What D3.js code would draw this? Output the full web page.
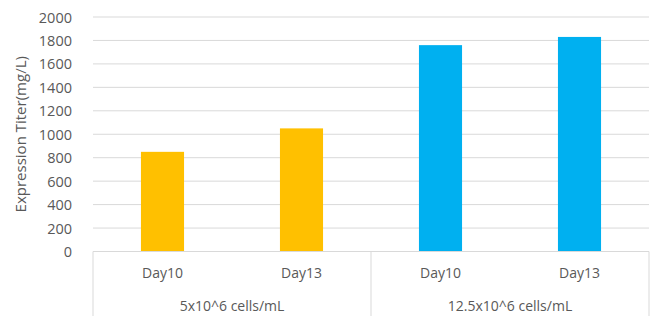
<!DOCTYPE html>
<html><head><meta charset="utf-8">
<script src="https://cdn.jsdelivr.net/npm/d3@7"></script>
<style>body{margin:0;background:#fff;}text{font-family:"Open Sans","Liberation Sans",sans-serif;fill:#595959;}</style>
</head><body><svg id="c" width="656" height="316"></svg>
<script>
const groups = ["5x10^6 cells/mL", "12.5x10^6 cells/mL"];
const days = ["Day10", "Day13"];
const categories = ["5x10^6 cells/mL|Day10", "5x10^6 cells/mL|Day13", "12.5x10^6 cells/mL|Day10", "12.5x10^6 cells/mL|Day13"];
const values = [850, 1050, 1760, 1830];
const colors = ["#FFC000", "#FFC000", "#00B0F0", "#00B0F0"];
const yTicks = [0, 200, 400, 600, 800, 1000, 1200, 1400, 1600, 1800, 2000];
const yTitle = "Expression Titer(mg/L)";

const svg = d3.select("#c");
const L = 93, R = 649, T = 17, B = 251.5;
const x = d3.scaleBand().domain(categories).range([L, R]).paddingInner(0.69).paddingOuter(0.345);
const y = d3.scaleLinear().domain([0, 2000]).range([B, T]);

// gridlines
svg.append("g").selectAll("line").data(yTicks.filter(d => d > 0)).join("line")
  .attr("x1", L).attr("x2", R).attr("y1", d => y(d)).attr("y2", d => y(d))
  .attr("stroke", "#D9D9D9").attr("stroke-width", 1);

// y axis labels
const yAxis = d3.axisLeft(y).tickValues(yTicks).tickSize(0).tickPadding(0).tickFormat(d3.format("d"));
const ga = svg.append("g").attr("transform", `translate(${L - 21},0)`).call(yAxis);
ga.select(".domain").remove();
ga.selectAll("text").style("font-size", "14.5px").style("font-family", "'Open Sans', sans-serif").attr("fill", "#595959").attr("dy", "0.35em");

// bars
svg.append("g").selectAll("rect").data(values).join("rect")
  .attr("x", (d, i) => x(categories[i])).attr("width", x.bandwidth())
  .attr("y", d => y(d)).attr("height", d => B - y(d))
  .attr("fill", (d, i) => colors[i]);

// category box
const gx = svg.append("g");
gx.append("line").attr("x1", L).attr("x2", R).attr("y1", B).attr("y2", B).attr("stroke", "#D9D9D9");
const step = (R - L) / categories.length;
[L, L + step * 2, R].forEach(v => {
  gx.append("line").attr("x1", v).attr("x2", v).attr("y1", B).attr("y2", 316).attr("stroke", "#D9D9D9");
});
gx.selectAll("text.day").data(categories).join("text").attr("class", "day")
  .attr("x", d => x(d) + x.bandwidth() / 2).attr("y", 278)
  .attr("text-anchor", "middle").style("font-size", "14px")
  .text(d => d.split("|")[1]);
gx.selectAll("text.grp").data(groups).join("text").attr("class", "grp")
  .attr("x", (d, i) => L + step * (2 * i + 1)).attr("y", 311)
  .attr("text-anchor", "middle").style("font-size", "14px").text(d => d);

// y title
svg.append("text").attr("transform", `translate(26,${(T + B) / 2}) rotate(-90)`)
  .attr("text-anchor", "middle").style("font-size", "15px").text(yTitle);
</script></body></html>
